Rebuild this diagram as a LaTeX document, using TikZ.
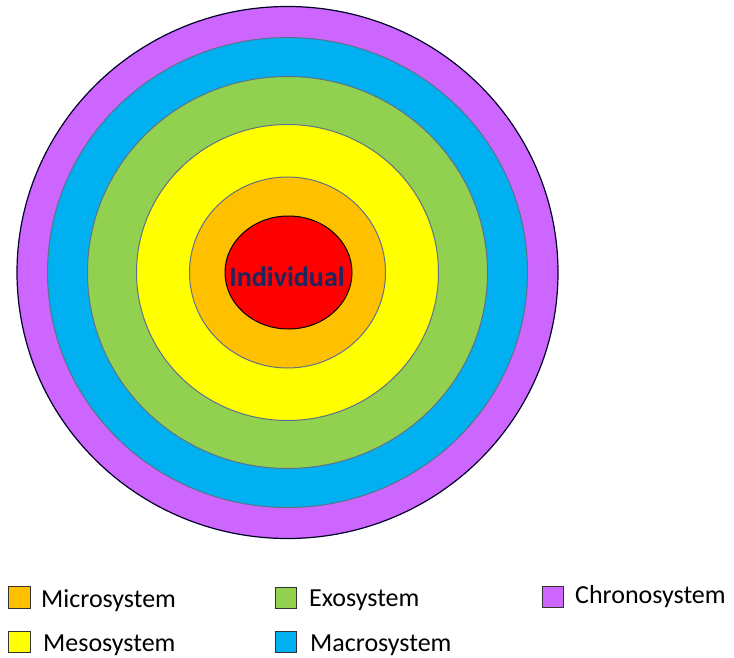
\documentclass[tikz,border=0pt]{standalone}
\usepackage{fontspec}
\setmainfont{Carlito}
\definecolor{cpurple}{HTML}{CC66FF}
\definecolor{cblue}{HTML}{00B0F0}
\definecolor{cgreen}{HTML}{92D050}
\definecolor{cyellow}{HTML}{FFFF00}
\definecolor{corange}{HTML}{FFC000}
\definecolor{cred}{HTML}{FF0000}
\definecolor{ring}{HTML}{5E7287}
\definecolor{navy}{HTML}{1C2660}
\begin{document}
\begin{tikzpicture}[x=1pt,y=-1pt,
  ringline/.style={draw=ring, line width=1pt},
  legbox/.style={draw=black!80, line width=0.8pt},
  legtext/.style={anchor=base west, inner sep=0pt, font=\fontsize{26}{30}\selectfont, text=black}]
\useasboundingbox (0,0) rectangle (734,658);
\coordinate (c) at (287.5,272.5);
\fill[cpurple, draw=black!85!blue, line width=1.2pt] (c) ellipse [x radius=270.5, y radius=266];
\filldraw[fill=cblue, ringline] (c) ellipse [x radius=240, y radius=235];
\filldraw[fill=cgreen, ringline] (c) ellipse [x radius=200, y radius=196];
\filldraw[fill=cyellow, ringline] (c) ellipse [x radius=151, y radius=148];
\filldraw[fill=corange, ringline] (c) ellipse [x radius=98, y radius=95.5];
\filldraw[fill=cred, draw=black, line width=1pt] (288.5,272.5) ellipse [x radius=63.5, y radius=56.5];
\node[anchor=base, inner sep=0pt, text=navy, font=\fontsize{28}{32}\selectfont\bfseries] (ind) at (287,286) {Individual};
% legend
\filldraw[fill=corange, legbox] (8.5,586) rectangle (30.5,608);
\node[legtext] (mi) at (41,607) {Microsystem};
\filldraw[fill=cyellow, legbox] (8.5,631) rectangle (30.5,652);
\node[legtext] (me) at (43,651) {Mesosystem};
\filldraw[fill=cgreen, legbox] (275,587) rectangle (296,608);
\node[legtext] (ex) at (309,606) {Exosystem};
\filldraw[fill=cblue, legbox] (275,631) rectangle (296,652);
\node[legtext] (ma) at (310,651) {Macrosystem};
\filldraw[fill=cpurple, legbox] (542,586) rectangle (563,607);
\node[legtext] (ch) at (575,603) {Chronosystem};
\end{tikzpicture}
\end{document}
